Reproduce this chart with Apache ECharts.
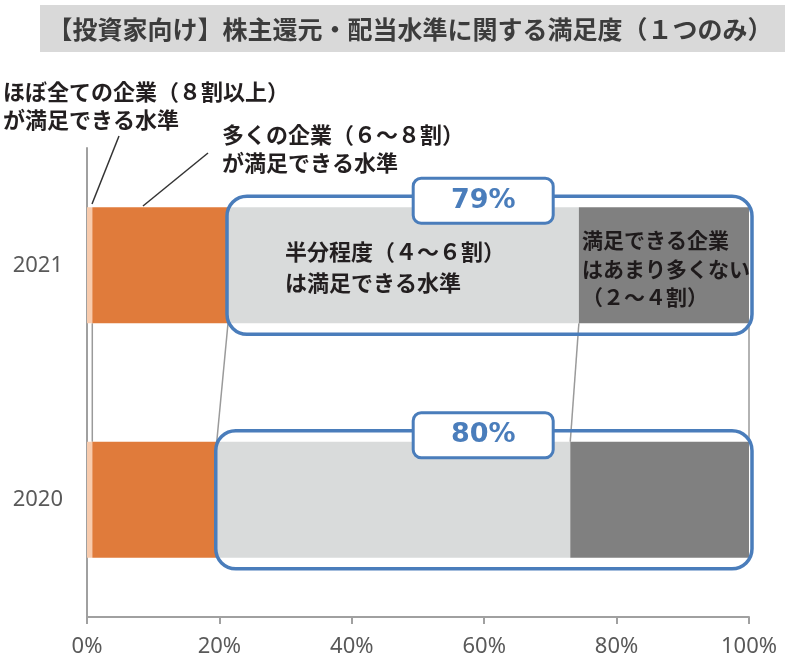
<!DOCTYPE html>
<html>
<head>
<meta charset="utf-8">
<script src="https://cdn.jsdelivr.net/npm/echarts@6/dist/echarts.min.js"></script>
<style>
  html, body { margin: 0; padding: 0; background: #fff; }
  #chart { width: 793px; height: 669px; }
</style>
</head>
<body>
<div id="chart"></div>
<script>
// 年度（下から 2020, 2021）
const years = ['2020', '2021'];
const xTicks = [0, 20, 40, 60, 80, 100];

// 各回答の割合（%）: [2020, 2021]
const allCompanies = [0.8, 0.8];     // ほぼ全ての企業（８割以上）
const manyCompanies = [18.8, 20.5];  // 多くの企業（６～８割）
const halfCompanies = [53.4, 53.0];  // 半分程度（４～６割）
const fewCompanies = [27.0, 25.7];   // あまり多くない（２～４割）

const BAR_W = 116;
const BLUE = '#4a7dbb';
const JP = '"Noto Sans CJK JP", "Noto Sans", sans-serif';

const stacks = [allCompanies, manyCompanies, halfCompanies, fewCompanies];

// 各境界での累積値
function cumAt(k, yi) {
  let s = 0;
  for (let i = 0; i <= k; i++) s += stacks[i][yi];
  return s;
}

const chart = echarts.init(document.getElementById('chart'));

const barSeries = [
  { name: 'ほぼ全ての企業', data: allCompanies, color: '#f8cbad' },
  { name: '多くの企業', data: manyCompanies, color: '#e07b3b' },
  { name: '半分程度', data: halfCompanies, color: '#d9dbdb' },
  { name: 'あまり多くない', data: fewCompanies, color: '#808080' }
].map(s => ({
  type: 'bar',
  name: s.name,
  stack: 'total',
  data: s.data,
  barWidth: BAR_W,
  itemStyle: { color: s.color },
  silent: true,
  z: 2
}));

// 系列線（2021 の下端 → 2020 の上端）
const seriesLines = {
  type: 'custom',
  silent: true,
  z: 1,
  data: stacks.map((_, k) => [k]),
  renderItem: function (params, api) {
    const k = params.dataIndex;
    const top = api.coord([cumAt(k, 1), 1]);
    const bot = api.coord([cumAt(k, 0), 0]);
    return {
      type: 'line',
      shape: { x1: top[0], y1: top[1] + BAR_W / 2, x2: bot[0], y2: bot[1] - BAR_W / 2 },
      style: { stroke: '#9a9a9a', lineWidth: 1.5 }
    };
  }
};

// 「半分程度」以下の合計を囲む枠と合計ラベル
const totalBoxes = {
  type: 'custom',
  silent: true,
  z: 5,
  data: years.map((y, i) => [allCompanies[i] + manyCompanies[i], i,
    Math.round(halfCompanies[i] + fewCompanies[i])]),
  encode: { x: 0, y: 1 },
  renderItem: function (params, api) {
    const p0 = api.coord([api.value(0), api.value(1)]);
    const p1 = api.coord([100, api.value(1)]);
    const mid = api.coord([60, api.value(1)]);
    const top = p0[1] - BAR_W / 2 - 11;
    return {
      type: 'group',
      children: [
        {
          type: 'rect',
          shape: { x: p0[0] - 1, y: top, width: p1[0] - p0[0] + 4, height: BAR_W + 22, r: 20 },
          style: { fill: 'none', stroke: BLUE, lineWidth: 3.5 }
        },
        {
          type: 'rect',
          shape: { x: mid[0] - 71, y: top - 18, width: 140, height: 45, r: 8 },
          style: { fill: '#fff', stroke: BLUE, lineWidth: 3 }
        },
        {
          type: 'text',
          style: {
            text: api.value(2) + '%',
            x: mid[0] - 1, y: top + 4.5,
            align: 'center', verticalAlign: 'middle',
            fill: BLUE, font: 'bold 27px "DejaVu Sans", sans-serif'
          }
        }
      ]
    };
  }
};

const option = {
  animation: false,
  backgroundColor: '#fff',
  grid: { left: 87, right: 44, top: 148, bottom: 52 },
  xAxis: {
    type: 'value',
    min: 0,
    max: 100,
    interval: 20,
    axisLine: { show: true, lineStyle: { color: '#a0a0a0', width: 2 } },
    axisTick: { show: true, length: 7, lineStyle: { color: '#a0a0a0', width: 2 } },
    splitLine: { show: false },
    axisLabel: {
      formatter: v => (xTicks.includes(v) ? v + '%' : ''),
      color: '#595959',
      fontSize: 22,
      fontFamily: '"Noto Sans", sans-serif',
      margin: 19
    }
  },
  yAxis: {
    type: 'category',
    data: years,
    axisLine: { show: true, lineStyle: { color: '#a0a0a0', width: 2 } },
    axisTick: { show: false },
    axisLabel: {
      color: '#595959',
      fontSize: 22,
      fontFamily: '"Noto Sans", sans-serif',
      margin: 24
    }
  },
  graphic: [
    { type: 'rect', shape: { x: 40, y: 5, width: 745, height: 47 }, style: { fill: '#d9d9d9' }, silent: true },
    {
      type: 'text', x: 410, y: 29, silent: true,
      style: {
        text: '【投資家向け】株主還元・配当水準に関する満足度（１つのみ）',
        align: 'center', verticalAlign: 'middle',
        fill: '#3c3c3c', font: 'bold 25px ' + JP
      }
    },
    {
      type: 'text', x: 3, y: 78, silent: true,
      style: {
        text: 'ほぼ全ての企業（８割以上）\nが満足できる水準',
        verticalAlign: 'top', lineHeight: 28,
        fill: '#231f20', font: 'bold 22px ' + JP
      }
    },
    {
      type: 'text', x: 222, y: 121, silent: true,
      style: {
        text: '多くの企業（６～８割）\nが満足できる水準',
        verticalAlign: 'top', lineHeight: 28,
        fill: '#231f20', font: 'bold 22px ' + JP
      }
    },
    { type: 'line', shape: { x1: 119, y1: 136, x2: 92, y2: 204 }, style: { stroke: '#333', lineWidth: 1.5 }, silent: true },
    { type: 'line', shape: { x1: 208, y1: 153, x2: 143, y2: 206 }, style: { stroke: '#333', lineWidth: 1.5 }, silent: true },
    {
      type: 'text', x: 285, y: 236, z: 10, silent: true,
      style: {
        text: '半分程度（４～６割）\nは満足できる水準',
        verticalAlign: 'top', lineHeight: 31,
        fill: '#231f20', font: 'bold 22px ' + JP
      }
    },
    {
      type: 'text', x: 582, y: 226, z: 10, silent: true,
      style: {
        text: '満足できる企業\nはあまり多くない\n（２～４割）',
        verticalAlign: 'top', lineHeight: 28.5,
        fill: '#1e1a1b', font: 'bold 21px ' + JP
      }
    }
  ],
  series: [...barSeries, seriesLines, totalBoxes]
};

chart.setOption(option);
</script>
</body>
</html>
